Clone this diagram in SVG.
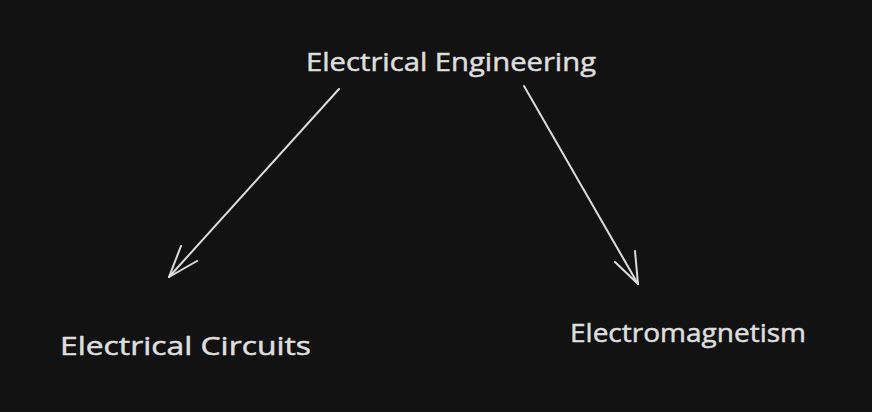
<svg xmlns="http://www.w3.org/2000/svg" width="872" height="412" viewBox="0 0 872 412">
<style>
.t{font-family:"Open Sans","Liberation Sans",sans-serif;font-size:25px;fill:#dedede;stroke:#dedede;stroke-width:0.5;}
.c{fill:none;stroke:#dcdcdc;stroke-width:2;stroke-linecap:round;stroke-linejoin:round;}
</style>
<rect width="872" height="412" fill="#121212"/>
<g id="node-electrical-engineering"><text class="t" x="306" y="71" textLength="290" lengthAdjust="spacingAndGlyphs">Electrical Engineering</text></g>
<g id="node-electrical-circuits"><text class="t" x="60" y="355" textLength="251" lengthAdjust="spacingAndGlyphs">Electrical Circuits</text></g>
<g id="node-electromagnetism"><text class="t" x="570" y="342" textLength="236" lengthAdjust="spacingAndGlyphs">Electromagnetism</text></g>
<g id="connectors">
<path class="c" d="M339 89 L169 277"/>
<path class="c" d="M181 246 L169 277 L197 261"/>
<path class="c" d="M524 86 L638 284"/>
<path class="c" d="M635 251 L638 284 L615 262"/>
</g>
</svg>
